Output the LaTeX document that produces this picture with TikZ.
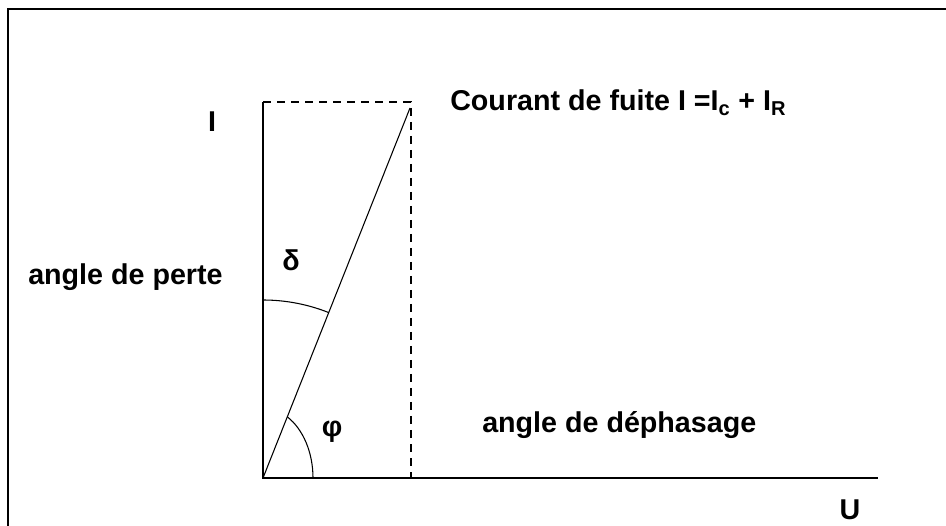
\documentclass[tikz,border=0pt]{standalone}
\usepackage{fontspec}
\setmainfont{Liberation Sans}
\usepackage{tikz}
\usetikzlibrary{calc}

\begin{document}
\begin{tikzpicture}[x=0.75pt,y=0.75pt,
  axe/.style={draw=black,line width=1.5pt},
  tiret/.style={draw=black,line width=1.4pt,dash pattern=on 6pt off 4.5pt},
  vecteur/.style={draw=black,line width=0.8pt},
  lbl/.style={inner sep=0pt,font=\fontsize{21.5}{25}\selectfont\bfseries}
]
\useasboundingbox (0,0) rectangle (946,525);
% cadre
\draw[line width=2.2pt] (8,-20) -- (8,516) -- (970,516);
% points
\coordinate (O) at (263,47);
\coordinate (Ihaut) at (263,423);
\coordinate (coin) at (411,423);
\coordinate (pied) at (411,47);
\coordinate (P) at (410,417);
\coordinate (Ufin) at (878,47);
% axes
\draw[axe] (Ihaut) -- (O) -- (Ufin);
\draw[tiret] (Ihaut) -- (coin) -- (pied);
\draw[vecteur] (O) -- (P);
% angles
\draw[vecteur] ([shift={(90:178)}]O) arc[start angle=90,end angle=68.3,radius=178];
\draw[vecteur] ([shift={(50,0)}]O) arc[start angle=0,end angle=61,x radius=50,y radius=70];
% textes
\node[lbl,anchor=base] (labI) at (212,393) {I};
\node[lbl,anchor=base west] (courant) at (450,414) {Courant de fuite I =I\textsubscript{c} + I\textsubscript{R}};
\node[lbl,anchor=base west] (perte) at (28,240) {angle de perte};
\node[lbl] (delta) at (291,265) {δ};
\node[lbl] (phi) at (332,93) {φ};
\node[lbl,anchor=base west] (dephas) at (482,93) {angle de déphasage};
\node[lbl] (labU) at (850,15) {U};
\end{tikzpicture}
\end{document}
